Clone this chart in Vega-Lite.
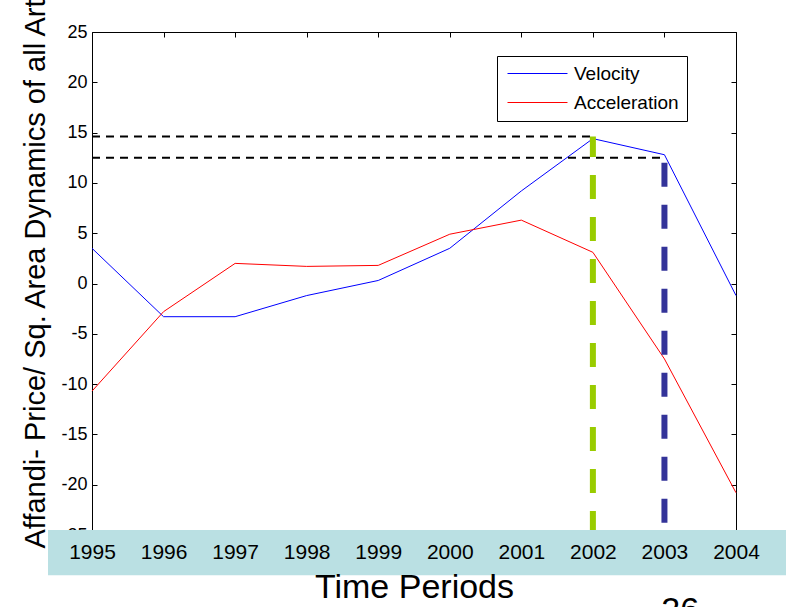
{
  "$schema": "https://vega.github.io/schema/vega-lite/v6.json",
  "width": 644,
  "height": 503,
  "autosize": {"type": "none"},
  "padding": {"left": 92, "top": 32, "right": 50, "bottom": 72},
  "background": "white",
  "config": {
    "view": {"stroke": "black", "strokeWidth": 1},
    "font": "Liberation Sans",
    "axis": {"grid": false}
  },
  "datasets": {
    "series": [
      {"year": 1995, "series": "Velocity", "value": 3.5},
      {"year": 1996, "series": "Velocity", "value": -3.3},
      {"year": 1997, "series": "Velocity", "value": -3.3},
      {"year": 1998, "series": "Velocity", "value": -1.2},
      {"year": 1999, "series": "Velocity", "value": 0.3},
      {"year": 2000, "series": "Velocity", "value": 3.5},
      {"year": 2001, "series": "Velocity", "value": 9.2},
      {"year": 2002, "series": "Velocity", "value": 14.4},
      {"year": 2003, "series": "Velocity", "value": 12.8},
      {"year": 2004, "series": "Velocity", "value": -1.2},
      {"year": 1995, "series": "Acceleration", "value": -10.7},
      {"year": 1996, "series": "Acceleration", "value": -2.8},
      {"year": 1997, "series": "Acceleration", "value": 2.0},
      {"year": 1998, "series": "Acceleration", "value": 1.7},
      {"year": 1999, "series": "Acceleration", "value": 1.8},
      {"year": 2000, "series": "Acceleration", "value": 4.9},
      {"year": 2001, "series": "Acceleration", "value": 6.3},
      {"year": 2002, "series": "Acceleration", "value": 3.1},
      {"year": 2003, "series": "Acceleration", "value": -7.5},
      {"year": 2004, "series": "Acceleration", "value": -20.8}
    ],
    "levels": [
      {"level": 14.6, "from": 1995, "until": 2002},
      {"level": 12.5, "from": 1995, "until": 2003}
    ],
    "peaks": [
      {"year": 2002, "level": 14.6, "floor": -25},
      {"year": 2003, "level": 12.5, "floor": -25}
    ]
  },
  "resolve": {"axis": {"x": "independent", "y": "independent"}},
  "layer": [
    {
      "data": {"name": "series"},
      "mark": {"type": "line", "strokeWidth": 1},
      "encoding": {
        "x": {
          "field": "year", "type": "quantitative",
          "scale": {"domain": [1995, 2004], "nice": false, "zero": false},
          "axis": {
            "orient": "bottom",
            "values": [1995, 1996, 1997, 1998, 1999, 2000, 2001, 2002, 2003, 2004],
            "format": "d", "zindex": 1, "domain": false, "ticks": false,
            "labelFlush": false, "labelOverlap": false, "labelBound": false,
            "labelFontSize": 21, "labelColor": "black", "labelPadding": 6,
            "title": "Time Periods", "titleFontSize": 34, "titleFontWeight": "normal",
            "titleColor": "black", "titleY": 62, "titleBaseline": "alphabetic"
          }
        },
        "y": {
          "field": "value", "type": "quantitative",
          "scale": {"domain": [-25, 25], "nice": false, "zero": false},
          "axis": {
            "orient": "left",
            "values": [-25, -20, -15, -10, -5, 0, 5, 10, 15, 20, 25],
            "labelExpr": "'' + datum.value",
            "labelFlush": false, "labelOverlap": false,
            "domain": false, "tickSize": -5, "tickColor": "black",
            "labelFontSize": 18, "labelColor": "black", "labelPadding": 10,
            "title": "Affandi- Price/ Sq. Area Dynamics of all Art",
            "titleFontSize": 29, "titleFontWeight": "normal", "titleColor": "black",
            "titleX": -48, "titleY": 516, "titleAngle": 270,
            "titleAlign": "left", "titleBaseline": "alphabetic"
          }
        },
        "color": {
          "field": "series", "type": "nominal",
          "scale": {"domain": ["Velocity", "Acceleration"], "range": ["#0000FF", "#FF0000"]},
          "legend": {
            "orient": "none", "legendX": 405, "legendY": 24, "title": null,
            "strokeColor": "black", "fillColor": "white", "padding": 8,
            "symbolType": "M-1,0H7.57", "symbolSize": 196, "symbolStrokeWidth": 1,
            "labelFontSize": 19, "labelColor": "black", "labelOffset": 50, "rowPadding": 9
          }
        }
      }
    },
    {
      "data": {"name": "levels"},
      "mark": {"type": "rule", "color": "black", "strokeWidth": 2, "strokeDash": [8, 6]},
      "encoding": {
        "x": {
          "field": "from", "type": "quantitative",
          "scale": {"domain": [1995, 2004], "nice": false, "zero": false},
          "axis": {
            "orient": "top",
            "values": [1995, 1996, 1997, 1998, 1999, 2000, 2001, 2002, 2003, 2004],
            "labels": false, "domain": false, "tickSize": -5, "tickColor": "black", "title": null
          }
        },
        "x2": {"field": "until"},
        "y": {
          "field": "level", "type": "quantitative",
          "scale": {"domain": [-25, 25], "nice": false, "zero": false},
          "axis": {
            "orient": "right",
            "values": [-25, -20, -15, -10, -5, 0, 5, 10, 15, 20, 25],
            "labels": false, "domain": false, "tickSize": -5, "tickColor": "black", "title": null
          }
        }
      }
    },
    {
      "data": {"name": "peaks"},
      "transform": [{"filter": "datum.year == 2002"}],
      "mark": {"type": "rule", "color": "#99CC00", "strokeWidth": 6, "strokeDash": [24, 18]},
      "encoding": {
        "x": {"field": "year", "type": "quantitative", "axis": null,
              "scale": {"domain": [1995, 2004], "nice": false, "zero": false}},
        "y": {"field": "floor", "type": "quantitative", "axis": null,
              "scale": {"domain": [-25, 25], "nice": false, "zero": false}},
        "y2": {"field": "level"}
      }
    },
    {
      "data": {"name": "peaks"},
      "transform": [{"filter": "datum.year == 2003"}],
      "mark": {"type": "rule", "color": "#333399", "strokeWidth": 6, "strokeDash": [24, 18], "strokeDashOffset": 37},
      "encoding": {
        "x": {"field": "year", "type": "quantitative", "axis": null,
              "scale": {"domain": [1995, 2004], "nice": false, "zero": false}},
        "y": {"field": "level", "type": "quantitative", "axis": null,
              "scale": {"domain": [-25, 25], "nice": false, "zero": false}},
        "y2": {"field": "floor"}
      }
    },
    {
      "data": {"values": [{}]},
      "mark": {"type": "rect", "color": "#BAE0E3"},
      "encoding": {
        "x": {"datum": 1994.385, "type": "quantitative", "axis": null,
              "scale": {"domain": [1995, 2004], "nice": false, "zero": false}},
        "x2": {"datum": 2004.7},
        "y": {"datum": -24.5, "type": "quantitative", "axis": null,
              "scale": {"domain": [-25, 25], "nice": false, "zero": false}},
        "y2": {"datum": -29}
      }
    },
    {
      "data": {"values": [{}]},
      "mark": {"type": "text", "fontSize": 34, "baseline": "top", "align": "center", "color": "black"},
      "encoding": {
        "x": {"datum": 2003.22, "type": "quantitative", "axis": null,
              "scale": {"domain": [1995, 2004], "nice": false, "zero": false}},
        "y": {"datum": -30.9, "type": "quantitative", "axis": null,
              "scale": {"domain": [-25, 25], "nice": false, "zero": false}},
        "text": {"value": "26"}
      }
    }
  ]
}
